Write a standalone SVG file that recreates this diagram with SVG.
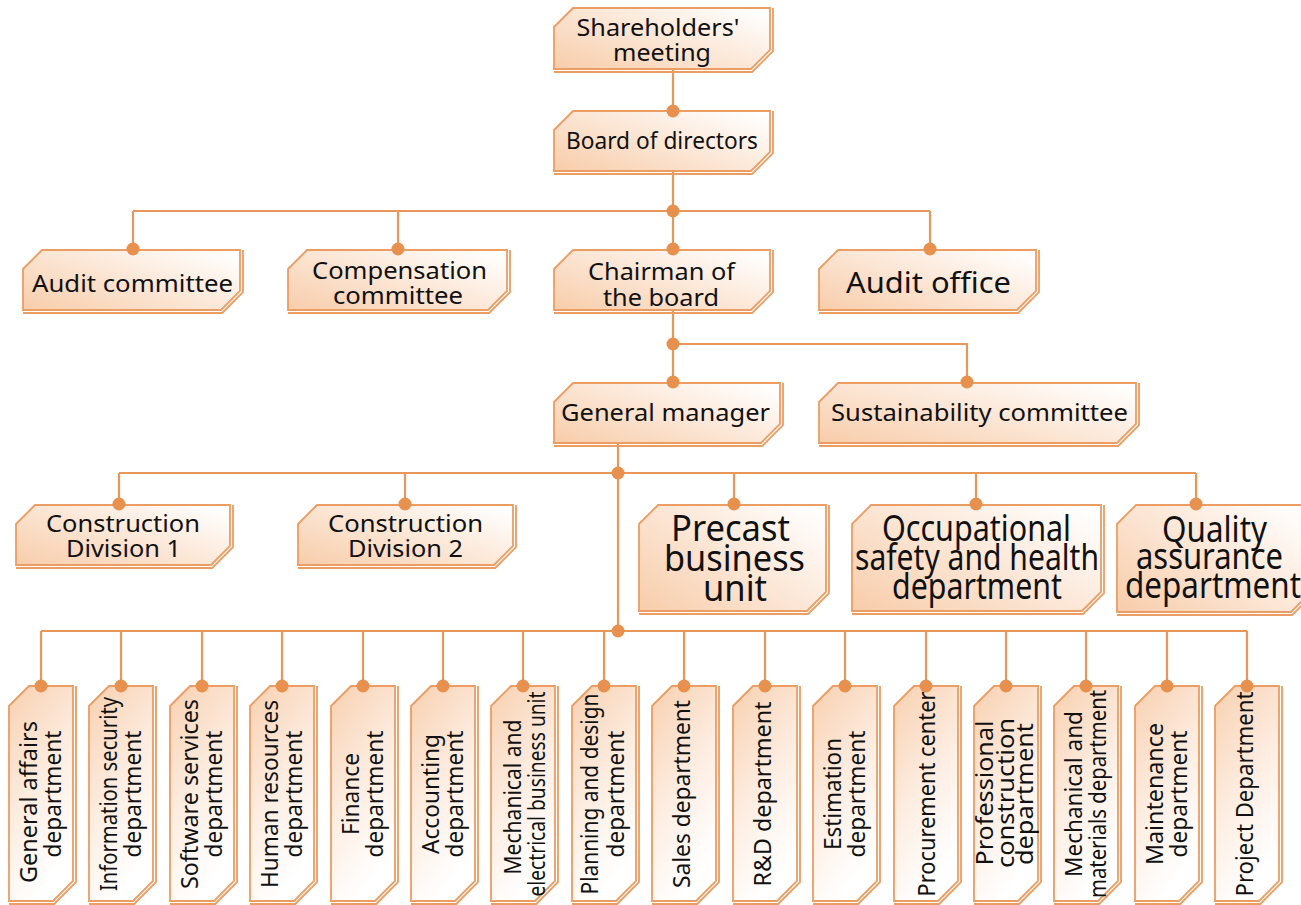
<svg xmlns="http://www.w3.org/2000/svg" xmlns:xlink="http://www.w3.org/1999/xlink" width="1301" height="905" viewBox="0 0 1301 905">
<style>
.hb{fill:url(#gh);stroke:#EC9D63;stroke-width:1.8}
.vb{fill:url(#gv);stroke:#EC9D63;stroke-width:1.8}
.sh{fill:none;stroke:#EC9D63;stroke-width:1.8}
.ln{fill:none;stroke:#E99659;stroke-width:2.2}
.dot{fill:#E8914F}
text{font-family:"Noto Sans","Open Sans",sans-serif;font-size:24px;fill:#111;text-anchor:middle}
.big{font-size:37px}
.mid{font-size:29px}
</style>
<defs>
<linearGradient id="gh" x1="0" y1="0.9" x2="1" y2="0.1">
<stop offset="0" stop-color="#F8CFAE"/>
<stop offset="0.55" stop-color="#FCE9DA"/>
<stop offset="1" stop-color="#FFFFFF"/>
</linearGradient>
<linearGradient id="gv" x1="0" y1="0" x2="0.4" y2="1">
<stop offset="0" stop-color="#F8D0B0"/>
<stop offset="0.55" stop-color="#FDEDE1"/>
<stop offset="1" stop-color="#FFFFFF"/>
</linearGradient>
<polygon id="vbox" points="-32,706 -12,686 32,686 32,881 12,901 -32,901"/>
<polyline id="vsh" points="35,686 35,882.2 13.2,904 -32,904"/>
</defs>
<rect width="1301" height="905" fill="#FFFFFF"/>

<g id="connectors">
<path class="ln" d="M673 69V111 M673 171V211 M133 211H930 M133 211V250 M398 211V250 M673 211V250 M930 211V250 M673 310V383 M673 344H967V383 M618 443V631 M119 473H1196 M119 473V505 M405 473V505 M734 473V505 M976 473V505 M1196 473V505 M41 631H1247 M41 631V686 M121 631V686 M202 631V686 M282 631V686 M363 631V686 M443 631V686 M523 631V686 M604 631V686 M684 631V686 M765 631V686 M845 631V686 M926 631V686 M1006 631V686 M1086 631V686 M1167 631V686 M1247 631V686"/>
</g>

<g id="n-shareholders">
<polygon class="hb" points="554,27 573,8 770,8 770,50 751,69 554,69"/>
<polyline class="sh" points="773,8 773,51.2 752.2,72 554,72"/>
<text x="658" y="36" textLength="163" lengthAdjust="spacingAndGlyphs">Shareholders'</text>
<text x="662" y="61" textLength="98" lengthAdjust="spacingAndGlyphs">meeting</text>
</g>
<g id="n-board">
<polygon class="hb" points="554,130 573,111 770,111 770,152 751,171 554,171"/>
<polyline class="sh" points="773,111 773,153.2 752.2,174 554,174"/>
<text x="662" y="149" textLength="192" lengthAdjust="spacingAndGlyphs">Board of directors</text>
</g>
<g id="n-audit-committee">
<polygon class="hb" points="23,269 42,250 240,250 240,291 221,310 23,310"/>
<polyline class="sh" points="243,250 243,292.2 222.2,313 23,313"/>
<text x="132.5" y="292" textLength="201" lengthAdjust="spacingAndGlyphs">Audit committee</text>
</g>
<g id="n-compensation">
<polygon class="hb" points="288,269 307,250 507,250 507,291 488,310 288,310"/>
<polyline class="sh" points="510,250 510,292.2 489.2,313 288,313"/>
<text x="399.5" y="279" textLength="175" lengthAdjust="spacingAndGlyphs">Compensation</text>
<text x="398" y="304" textLength="130" lengthAdjust="spacingAndGlyphs">committee</text>
</g>
<g id="n-chairman">
<polygon class="hb" points="554,269 573,250 770,250 770,291 751,310 554,310"/>
<polyline class="sh" points="773,250 773,292.2 752.2,313 554,313"/>
<text x="661.5" y="280" textLength="147" lengthAdjust="spacingAndGlyphs">Chairman of</text>
<text x="661" y="306" textLength="116" lengthAdjust="spacingAndGlyphs">the board</text>
</g>
<g id="n-audit-office">
<polygon class="hb" points="819,269 838,250 1036,250 1036,291 1017,310 819,310"/>
<polyline class="sh" points="1039,250 1039,292.2 1018.2,313 819,313"/>
<text class="mid" x="928.5" y="293" textLength="165" lengthAdjust="spacingAndGlyphs">Audit office</text>
</g>
<g id="n-general-manager">
<polygon class="hb" points="554,402 573,383 780,383 780,424 761,443 554,443"/>
<polyline class="sh" points="783,383 783,425.2 762.2,446 554,446"/>
<text x="665.5" y="421" textLength="209" lengthAdjust="spacingAndGlyphs">General manager</text>
</g>
<g id="n-sustainability">
<polygon class="hb" points="819,402 838,383 1136,383 1136,424 1117,443 819,443"/>
<polyline class="sh" points="1139,383 1139,425.2 1118.2,446 819,446"/>
<text x="979.5" y="421" textLength="297" lengthAdjust="spacingAndGlyphs">Sustainability committee</text>
</g>
<g id="n-construction-1">
<polygon class="hb" points="16,524 35,505 230,505 230,546 211,565 16,565"/>
<polyline class="sh" points="233,505 233,547.2 212.2,568 16,568"/>
<text x="123" y="532" textLength="154" lengthAdjust="spacingAndGlyphs">Construction</text>
<text x="123.5" y="557" textLength="115" lengthAdjust="spacingAndGlyphs">Division 1</text>
</g>
<g id="n-construction-2">
<polygon class="hb" points="298,524 317,505 513,505 513,546 494,565 298,565"/>
<polyline class="sh" points="516,505 516,547.2 495.2,568 298,568"/>
<text x="405.5" y="532" textLength="155" lengthAdjust="spacingAndGlyphs">Construction</text>
<text x="405.5" y="557" textLength="115" lengthAdjust="spacingAndGlyphs">Division 2</text>
</g>
<g id="n-precast">
<polygon class="hb" points="639,524 658,505 826,505 826,592 807,611 639,611"/>
<polyline class="sh" points="829,505 829,593.2 808.2,614 639,614"/>
<text class="big" x="730.5" y="541" textLength="119" lengthAdjust="spacingAndGlyphs">Precast</text>
<text class="big" x="734.5" y="571" textLength="141" lengthAdjust="spacingAndGlyphs">business</text>
<text class="big" x="735" y="601" textLength="64" lengthAdjust="spacingAndGlyphs">unit</text>
</g>
<g id="n-occupational">
<polygon class="hb" points="852,524 871,505 1101,505 1101,592 1082,611 852,611"/>
<polyline class="sh" points="1104,505 1104,593.2 1083.2,614 852,614"/>
<text class="big" x="976.5" y="541" textLength="189" lengthAdjust="spacingAndGlyphs">Occupational</text>
<text class="big" x="977" y="570" textLength="244" lengthAdjust="spacingAndGlyphs">safety and health</text>
<text class="big" x="977" y="599" textLength="170" lengthAdjust="spacingAndGlyphs">department</text>
</g>
<g id="n-quality">
<polygon class="hb" points="1117,524 1136,505 1310,505 1310,593 1291,612 1117,612"/>
<polyline class="sh" points="1313,505 1313,594.2 1292.2,615 1117,615"/>
<text class="big" x="1214.5" y="542" textLength="105" lengthAdjust="spacingAndGlyphs">Quality</text>
<text class="big" x="1209.5" y="569" textLength="147" lengthAdjust="spacingAndGlyphs">assurance</text>
<text class="big" x="1213" y="598" textLength="176" lengthAdjust="spacingAndGlyphs">department</text>
</g>

<g id="n-general-affairs" transform="translate(41,0)">
<use href="#vbox" class="vb"/><use href="#vsh" class="sh"/>
<g transform="translate(0,794) rotate(-90)">
<text x="-8" y="-4" textLength="162" lengthAdjust="spacingAndGlyphs">General affairs</text>
<text x="0" y="20" textLength="127" lengthAdjust="spacingAndGlyphs">department</text>
</g>
</g>
<g id="n-information-security" transform="translate(121,0)">
<use href="#vbox" class="vb"/><use href="#vsh" class="sh"/>
<g transform="translate(0,794) rotate(-90)">
<text x="0" y="-4" textLength="194" lengthAdjust="spacingAndGlyphs">Information security</text>
<text x="0" y="20" textLength="127" lengthAdjust="spacingAndGlyphs">department</text>
</g>
</g>
<g id="n-software-services" transform="translate(202,0)">
<use href="#vbox" class="vb"/><use href="#vsh" class="sh"/>
<g transform="translate(0,794) rotate(-90)">
<text x="0" y="-4" textLength="190" lengthAdjust="spacingAndGlyphs">Software services</text>
<text x="0" y="20" textLength="127" lengthAdjust="spacingAndGlyphs">department</text>
</g>
</g>
<g id="n-human-resources" transform="translate(282,0)">
<use href="#vbox" class="vb"/><use href="#vsh" class="sh"/>
<g transform="translate(0,794) rotate(-90)">
<text x="0" y="-4" textLength="188" lengthAdjust="spacingAndGlyphs">Human resources</text>
<text x="0" y="20" textLength="127" lengthAdjust="spacingAndGlyphs">department</text>
</g>
</g>
<g id="n-finance" transform="translate(363,0)">
<use href="#vbox" class="vb"/><use href="#vsh" class="sh"/>
<g transform="translate(0,794) rotate(-90)">
<text x="0" y="-4" textLength="82" lengthAdjust="spacingAndGlyphs">Finance</text>
<text x="0" y="20" textLength="127" lengthAdjust="spacingAndGlyphs">department</text>
</g>
</g>
<g id="n-accounting" transform="translate(443,0)">
<use href="#vbox" class="vb"/><use href="#vsh" class="sh"/>
<g transform="translate(0,794) rotate(-90)">
<text x="0" y="-4" textLength="120" lengthAdjust="spacingAndGlyphs">Accounting</text>
<text x="0" y="20" textLength="127" lengthAdjust="spacingAndGlyphs">department</text>
</g>
</g>
<g id="n-mech-electrical" transform="translate(523,0)">
<use href="#vbox" class="vb"/><use href="#vsh" class="sh"/>
<g transform="translate(0,794) rotate(-90)">
<text x="-3" y="-2" textLength="155" lengthAdjust="spacingAndGlyphs">Mechanical and</text>
<text x="0" y="22" textLength="205" lengthAdjust="spacingAndGlyphs">electrical business unit</text>
</g>
</g>
<g id="n-planning-design" transform="translate(604,0)">
<use href="#vbox" class="vb"/><use href="#vsh" class="sh"/>
<g transform="translate(0,794) rotate(-90)">
<text x="0" y="-6" textLength="201" lengthAdjust="spacingAndGlyphs">Planning and design</text>
<text x="0" y="20" textLength="127" lengthAdjust="spacingAndGlyphs">department</text>
</g>
</g>
<g id="n-sales" transform="translate(684,0)">
<use href="#vbox" class="vb"/><use href="#vsh" class="sh"/>
<g transform="translate(0,794) rotate(-90)">
<text x="0" y="6" textLength="188" lengthAdjust="spacingAndGlyphs">Sales department</text>
</g>
</g>
<g id="n-rnd" transform="translate(765,0)">
<use href="#vbox" class="vb"/><use href="#vsh" class="sh"/>
<g transform="translate(0,794) rotate(-90)">
<text x="0" y="6" textLength="185" lengthAdjust="spacingAndGlyphs">R&amp;D department</text>
</g>
</g>
<g id="n-estimation" transform="translate(845,0)">
<use href="#vbox" class="vb"/><use href="#vsh" class="sh"/>
<g transform="translate(0,794) rotate(-90)">
<text x="0" y="-4" textLength="112" lengthAdjust="spacingAndGlyphs">Estimation</text>
<text x="0" y="20" textLength="127" lengthAdjust="spacingAndGlyphs">department</text>
</g>
</g>
<g id="n-procurement" transform="translate(926,0)">
<use href="#vbox" class="vb"/><use href="#vsh" class="sh"/>
<g transform="translate(0,794) rotate(-90)">
<text x="0" y="9" textLength="205" lengthAdjust="spacingAndGlyphs">Procurement center</text>
</g>
</g>
<g id="n-professional-construction" transform="translate(1006,0)">
<use href="#vbox" class="vb"/><use href="#vsh" class="sh"/>
<g transform="translate(0,794) rotate(-90)">
<text x="1" y="-13" textLength="145" lengthAdjust="spacingAndGlyphs">Professional</text>
<text x="1" y="8" textLength="150" lengthAdjust="spacingAndGlyphs">construction</text>
<text x="0" y="27" textLength="142" lengthAdjust="spacingAndGlyphs">department</text>
</g>
</g>
<g id="n-mech-materials" transform="translate(1086,0)">
<use href="#vbox" class="vb"/><use href="#vsh" class="sh"/>
<g transform="translate(0,794) rotate(-90)">
<text x="0" y="-4" textLength="166" lengthAdjust="spacingAndGlyphs">Mechanical and</text>
<text x="0" y="20" textLength="208" lengthAdjust="spacingAndGlyphs">materials department</text>
</g>
</g>
<g id="n-maintenance" transform="translate(1167,0)">
<use href="#vbox" class="vb"/><use href="#vsh" class="sh"/>
<g transform="translate(0,794) rotate(-90)">
<text x="0" y="-4" textLength="142" lengthAdjust="spacingAndGlyphs">Maintenance</text>
<text x="0" y="20" textLength="127" lengthAdjust="spacingAndGlyphs">department</text>
</g>
</g>
<g id="n-project" transform="translate(1247,0)">
<use href="#vbox" class="vb"/><use href="#vsh" class="sh"/>
<g transform="translate(0,794) rotate(-90)">
<text x="0" y="6" textLength="205" lengthAdjust="spacingAndGlyphs">Project Department</text>
</g>
</g>

<g id="dots" class="dot">
<circle cx="673" cy="111" r="6.5"/>
<circle cx="673" cy="211" r="6.5"/>
<circle cx="133" cy="249" r="6.5"/>
<circle cx="398" cy="249" r="6.5"/>
<circle cx="673" cy="249" r="6.5"/>
<circle cx="930" cy="249" r="6.5"/>
<circle cx="673" cy="344" r="6.5"/>
<circle cx="673" cy="382" r="6.5"/>
<circle cx="967" cy="382" r="6.5"/>
<circle cx="618" cy="473" r="6.5"/>
<circle cx="119" cy="504" r="6.5"/>
<circle cx="405" cy="504" r="6.5"/>
<circle cx="734" cy="504" r="6.5"/>
<circle cx="976" cy="504" r="6.5"/>
<circle cx="1196" cy="504" r="6.5"/>
<circle cx="618" cy="631" r="6.5"/>
<circle cx="41" cy="686" r="6.5"/>
<circle cx="121" cy="686" r="6.5"/>
<circle cx="202" cy="686" r="6.5"/>
<circle cx="282" cy="686" r="6.5"/>
<circle cx="363" cy="686" r="6.5"/>
<circle cx="443" cy="686" r="6.5"/>
<circle cx="523" cy="686" r="6.5"/>
<circle cx="604" cy="686" r="6.5"/>
<circle cx="684" cy="686" r="6.5"/>
<circle cx="765" cy="686" r="6.5"/>
<circle cx="845" cy="686" r="6.5"/>
<circle cx="926" cy="686" r="6.5"/>
<circle cx="1006" cy="686" r="6.5"/>
<circle cx="1086" cy="686" r="6.5"/>
<circle cx="1167" cy="686" r="6.5"/>
<circle cx="1247" cy="686" r="6.5"/>
</g>
</svg>
